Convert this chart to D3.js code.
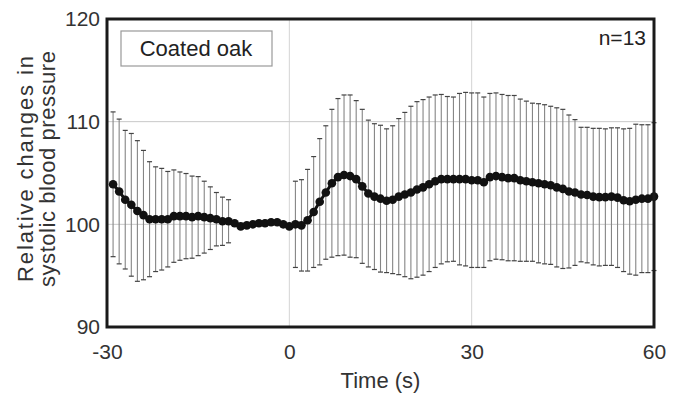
<!DOCTYPE html>
<html>
<head>
<meta charset="utf-8">
<script src="https://cdn.jsdelivr.net/npm/d3@7/dist/d3.min.js"></script>
<style>
  body { margin: 0; background: #fff; }
  svg { font-family: "Liberation Sans", Arial, sans-serif; }
</style>
</head>
<body>
<svg id="chart" width="680" height="394"></svg>
<script>
// time points (s), one per second
const times = d3.range(-29, 61);

// mean relative systolic pressure
const meanValues = [
  103.9, 103.2, 102.4, 101.9, 101.3, 100.9, 100.5, 100.5, 100.5, 100.5,
  100.8, 100.8, 100.8, 100.7, 100.8, 100.7, 100.6, 100.5, 100.3, 100.3,
  100.1, 99.8, 99.9, 100.0, 100.1, 100.1, 100.2, 100.2, 100.0, 99.8,
  100.0, 99.9, 100.4, 101.2, 102.2, 103.1, 104.0, 104.6, 104.8, 104.7,
  104.4, 103.7, 103.0, 102.7, 102.5, 102.3, 102.4, 102.7, 102.9, 103.1,
  103.4, 103.6, 103.9, 104.2, 104.4, 104.4, 104.4, 104.4, 104.4, 104.3,
  104.3, 104.1, 104.6, 104.7, 104.6, 104.5, 104.5, 104.3, 104.2, 104.1,
  104.0, 103.9, 103.8, 103.6, 103.45, 103.2, 103.1, 102.9, 102.85, 102.7,
  102.65, 102.65, 102.7, 102.6, 102.35, 102.25, 102.4, 102.5, 102.5, 102.7
];

// standard deviation (null = no error bar drawn)
const sdValues = [
  7.05, 7.05, 6.75, 6.95, 6.85, 6.3, 5.6, 5.1, 4.95, 4.65,
  4.5, 4.3, 4.15, 4.0, 3.85, 3.5, 3.05, 2.6, 2.35, 2.1,
  null, null, null, null, null, null, null, null, null, null,
  4.2, 4.45, 4.95, 5.4, 6.15, 6.5, 7.2, 7.65, 7.8, 7.9,
  7.65, 7.5, 7.15, 7.1, 7.15, 7.0, 7.2, 7.6, 8.0, 8.4,
  8.55, 8.55, 8.5, 8.4, 8.25, 8.05, 8.0, 8.35, 8.45, 8.5,
  8.5, 8.3, 8.15, 8.1, 8.05, 8.05, 8.05, 7.9, 7.8, 7.7,
  7.75, 7.75, 7.7, 7.75, 7.75, 7.45, 7.1, 6.55, 6.6, 6.65,
  6.7, 6.65, 6.7, 6.8, 6.95, 7.1, 7.35, 7.2, 7.2, 7.2
];

const xTicks = [-30, 0, 30, 60];
const yTicks = [90, 100, 110, 120];
const yLabelLines = ["Relative changes in", "systolic blood pressure"];
const legendLabel = "Coated oak";
const nLabel = "n=13";

const svg = d3.select("#chart");
const margin = {left: 107, right: 26, top: 19, bottom: 67};
const width = 680 - margin.left - margin.right;
const height = 394 - margin.top - margin.bottom;

const x = d3.scaleLinear().domain([-30, 60]).range([0, width]);
const y = d3.scaleLinear().domain([90, 120]).range([height, 0]);

const g = svg.append("g").attr("transform", `translate(${margin.left},${margin.top})`);

// grid
g.selectAll(".vgrid").data(xTicks.slice(1, -1)).enter().append("line")
  .attr("x1", d => x(d)).attr("x2", d => x(d))
  .attr("y1", 0).attr("y2", height)
  .attr("stroke", "#d4d4d4").attr("stroke-width", 1);
g.selectAll(".hgrid").data(yTicks.slice(1, -1)).enter().append("line")
  .attr("x1", 0).attr("x2", width)
  .attr("y1", d => y(d)).attr("y2", d => y(d))
  .attr("stroke", "#c8c8c8").attr("stroke-width", 1);

const data = times.map((t, i) => ({t: t, m: meanValues[i], sd: sdValues[i]}));
const withErr = data.filter(d => d.sd != null);

// error bars
const eb = g.append("g").attr("stroke", "#858585");
eb.selectAll(".bar").data(withErr).enter().append("line")
  .attr("x1", d => x(d.t)).attr("x2", d => x(d.t))
  .attr("y1", d => y(d.m + d.sd)).attr("y2", d => y(d.m - d.sd))
  .attr("stroke-width", 1.1);
eb.selectAll(".capTop").data(withErr).enter().append("line")
  .attr("x1", d => x(d.t) - 2.5).attr("x2", d => x(d.t) + 2.5)
  .attr("y1", d => y(d.m + d.sd)).attr("y2", d => y(d.m + d.sd))
  .attr("stroke", "#444").attr("stroke-width", 1.2);
eb.selectAll(".capBot").data(withErr).enter().append("line")
  .attr("x1", d => x(d.t) - 2.5).attr("x2", d => x(d.t) + 2.5)
  .attr("y1", d => y(d.m - d.sd)).attr("y2", d => y(d.m - d.sd))
  .attr("stroke", "#444").attr("stroke-width", 1.2);

// mean line + markers
const line = d3.line().x(d => x(d.t)).y(d => y(d.m));
g.append("path").datum(data).attr("d", line)
  .attr("fill", "none").attr("stroke", "#111").attr("stroke-width", 3);
g.selectAll(".pt").data(data).enter().append("circle")
  .attr("cx", d => x(d.t)).attr("cy", d => y(d.m)).attr("r", 4.3)
  .attr("fill", "#111");

// frame
g.append("rect").attr("x", 0).attr("y", 0).attr("width", width).attr("height", height)
  .attr("fill", "none").attr("stroke", "#1a1a1a").attr("stroke-width", 3);

// axes labels
const xAxis = d3.axisBottom(x).tickValues(xTicks).tickSize(0).tickPadding(17).tickFormat(d => String(d));
const gx = g.append("g").attr("transform", `translate(0,${height})`).call(xAxis);
gx.select(".domain").remove();
gx.selectAll("text").attr("font-size", 21).attr("fill", "#333").attr("font-family", "Liberation Sans, Arial, sans-serif");

const yAxis = d3.axisLeft(y).tickValues(yTicks).tickSize(0).tickPadding(7);
const gy = g.append("g").call(yAxis);
gy.select(".domain").remove();
gy.selectAll("text").attr("font-size", 21).attr("fill", "#333").attr("font-family", "Liberation Sans, Arial, sans-serif");

svg.append("text").attr("x", margin.left + width / 2).attr("y", 388)
  .attr("text-anchor", "middle").attr("font-size", 22).attr("fill", "#333")
  .text("Time (s)");

// y label: two lines, stretched to the reference's length
const yLabelLengths = [226, 236];
const yl = svg.append("text").attr("transform", "translate(0,169) rotate(-90)")
  .attr("text-anchor", "middle").attr("font-size", 22).attr("fill", "#333");
yl.selectAll("tspan").data(yLabelLines).enter().append("tspan")
  .attr("x", 0).attr("y", (d, i) => 33 + i * 22)
  .attr("textLength", (d, i) => yLabelLengths[i]).attr("lengthAdjust", "spacing")
  .text(d => d);

// legend box
svg.append("rect").attr("x", 121).attr("y", 31).attr("width", 151).attr("height", 35)
  .attr("fill", "#fff").attr("stroke", "#999").attr("stroke-width", 1.2);
svg.append("text").attr("x", 196).attr("y", 56).attr("text-anchor", "middle")
  .attr("font-size", 22).attr("fill", "#222").text(legendLabel);

svg.append("text").attr("x", 646).attr("y", 45).attr("text-anchor", "end")
  .attr("font-size", 21).attr("fill", "#222").text(nLabel);
</script>
</body>
</html>
